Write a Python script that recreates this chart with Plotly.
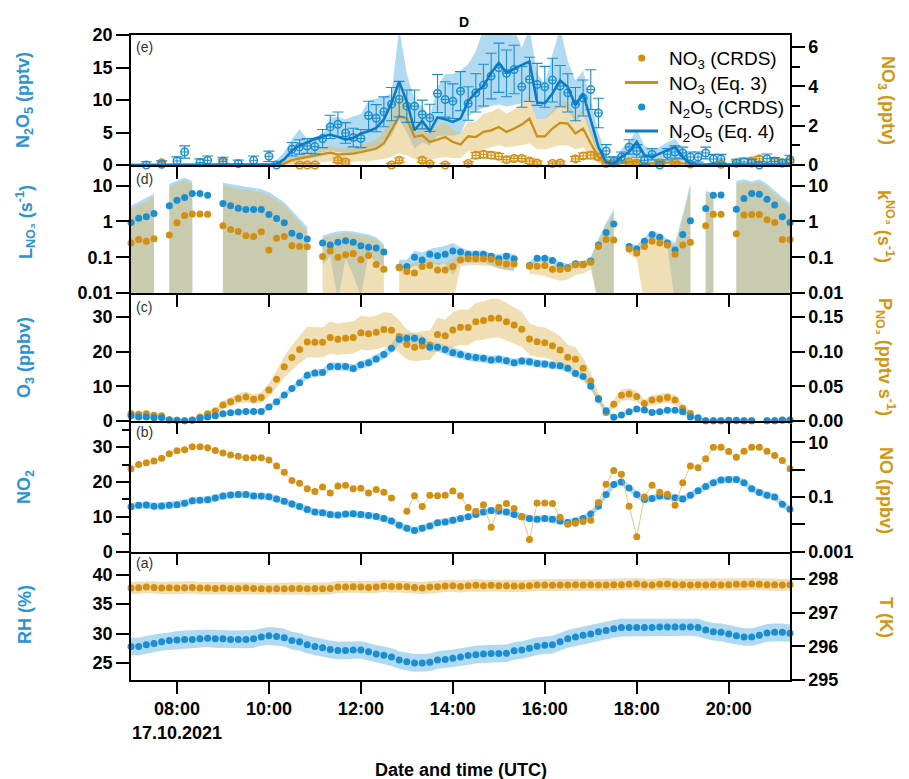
import numpy as np
import plotly.graph_objects as go

# ---------------------------------------------------------------------------
# 10-min averages, 17.10.2021, 07:00-21:20 UTC
# ---------------------------------------------------------------------------
N_POINTS = 87
HOURS = 7.0 + np.arange(N_POINTS) * 10.0 / 60.0
TICK_HOURS = [8, 10, 12, 14, 16, 18, 20]
TICK_LABELS = ["08:00<br>17.10.2021", "10:00", "12:00", "14:00", "16:00", "18:00", "20:00"]

# (a) relative humidity (%) and temperature (K)
RH = [27.8, 27.8, 28.1, 28.3, 28.6, 28.8, 28.9, 29.0, 29.0, 29.1,
      29.2, 29.1, 29.1, 29.0, 29.0, 29.0, 29.1, 29.4, 29.6, 29.5,
      29.3, 28.8, 28.6, 28.1, 27.8, 27.6, 27.3, 27.1, 27.1, 27.2,
      27.2, 26.9, 26.5, 26.3, 26.0, 25.5, 25.2, 25.0, 25.0, 25.1,
      25.5, 25.6, 25.8, 26.0, 26.25, 26.4, 26.5, 26.6, 26.6, 26.65,
      27.05, 27.2, 27.5, 27.85, 28.0, 28.1, 28.6, 29.1, 29.4, 29.7,
      29.9, 30.3, 30.5, 30.8, 31.0, 31.0, 31.0, 31.0, 31.0, 31.1,
      31.1, 31.1, 31.1, 31.1, 31.0, 30.6, 30.3, 30.2, 29.9, 29.6,
      29.4, 29.4, 29.7, 30.1, 30.2, 30.2, 30.05]
T_K = [297.73, 297.74, 297.76, 297.75, 297.73, 297.74, 297.73, 297.74, 297.75, 297.73,
       297.73, 297.72, 297.73, 297.72, 297.72, 297.73, 297.72, 297.71, 297.70, 297.71,
       297.71, 297.72, 297.72, 297.71, 297.72, 297.71, 297.72, 297.76, 297.76, 297.77,
       297.76, 297.75, 297.76, 297.79, 297.78, 297.78, 297.77, 297.75, 297.73, 297.76,
       297.77, 297.79, 297.80, 297.78, 297.80, 297.81, 297.80, 297.81, 297.80, 297.80,
       297.79, 297.79, 297.80, 297.82, 297.82, 297.81, 297.82, 297.82, 297.83, 297.82,
       297.83, 297.82, 297.82, 297.83, 297.83, 297.84, 297.85, 297.83, 297.82, 297.84,
       297.85, 297.83, 297.83, 297.82, 297.83, 297.82, 297.83, 297.82, 297.83, 297.84,
       297.84, 297.85, 297.84, 297.83, 297.83, 297.82, 297.83]

# (b) NO2 (ppbv) and NO (ppbv)
NO2 = [12.9, 13.3, 13.4, 13.05, 13.1, 13.3, 13.5, 13.9, 14.6, 14.8,
       14.9, 15.4, 16.0, 16.3, 16.4, 16.4, 16.0, 16.0, 15.8, 15.1,
       14.5, 13.7, 13.0, 12.1, 11.4, 11.2, 10.7, 10.5, 10.8, 10.9,
       10.7, 10.4, 10.1, 9.5, 8.8, 7.6, 6.7, 6.1, 6.7, 7.4,
       8.3, 8.5, 9.05, 9.5, 10.0, 10.7, 11.4, 11.8, 11.7, 11.4,
       10.7, 10.0, 9.5, 9.3, 9.5, 9.3, 8.8, 8.4, 8.8, 9.5,
       10.8, 13.05, 16.4, 19.3, 20.0, 18.3, 16.4, 15.0, 15.3, 16.0,
       15.9, 15.5, 15.1, 16.2, 17.5, 18.7, 19.8, 20.6, 20.7, 20.7,
       19.8, 18.1, 17.0, 16.2, 15.7, 13.6, 12.2]
NO = [1.07, 1.55, 1.78, 2.09, 2.63, 3.80, 4.90, 5.37, 6.92, 6.92,
      6.31, 5.01, 4.07, 3.47, 3.09, 2.75, 2.75, 2.75, 2.24, 1.35,
      0.81, 0.40, 0.32, 0.20, 0.16, 0.23, 0.14, 0.25, 0.27, 0.20,
      0.21, 0.14, 0.19, 0.15, 0.091, None, 0.030, 0.11, 0.045, 0.115,
      0.11, 0.115, 0.166, 0.11, 0.041, 0.030, 0.052, 0.0078, 0.042, 0.058,
      0.038, 0.019, 0.0028, 0.060, 0.060, 0.058, 0.018, 0.010, 0.011, 0.0126,
      0.014, 0.063, 0.29, 0.93, 0.68, 0.046, 0.0035, 0.10, 0.27, 0.15,
      0.126, 0.050, 0.33, 1.35, 1.17, 2.51, 6.61, 6.61, 4.57, 2.82,
      4.68, 6.61, 6.61, 4.68, 3.31, 2.14, 1.07]

# (c) O3 (ppbv) and NO3 production rate (pptv s-1)
O3 = [1.45, 1.07, 1.07, 0.87, 0.87, 0.2, 0.1, 0.0, 0.1, 0.68,
      1.07, 1.45, 2.0, 2.3, 2.5, 2.7, 2.7, 2.7, 4.0, 5.5,
      7.45, 9.3, 11.0, 13.2, 13.8, 14.0, 15.7, 15.7, 15.7, 15.1,
      16.2, 16.8, 17.9, 19.2, 21.0, 23.6, 23.9, 23.9, 23.2, 21.3,
      21.3, 20.6, 19.7, 19.2, 18.6, 18.3, 18.1, 17.6, 17.8, 17.4,
      16.8, 17.3, 17.1, 16.6, 16.4, 16.1, 15.9, 15.2, 13.7, 12.8,
      10.0, 6.2, 2.9, 1.0, 1.65, 2.6, 3.4, 3.1, 2.4, 2.6,
      3.0, 3.0, 2.6, 1.07, 0.87, 0.0, 0.0, 0.0, 0.1, 0.1,
      0.0, 0.0, None, 0.0, 0.0, 0.2, 0.2]
P_NO3 = [0.0105, 0.0095, 0.010, 0.0078, 0.0073, 0.0015, 0.0005, 0.0, 0.001, 0.0054,
         0.010, 0.014, 0.0228, 0.0275, 0.032, 0.0345, 0.031, 0.0335, 0.0445, 0.060,
         0.078, 0.0915, 0.103, 0.114, 0.1135, 0.1135, 0.1205, 0.118, 0.1195, 0.1205,
         0.1275, 0.126, 0.128, 0.132, 0.131, 0.122, 0.1105, 0.1065, 0.1085, 0.1095,
         0.125, 0.123, 0.1315, 0.1355, 0.135, 0.1435, 0.145, 0.1485, 0.1485, 0.1435,
         0.1385, 0.1325, 0.1185, 0.1145, 0.113, 0.1085, 0.1025, 0.092, 0.089, 0.076,
         0.0575, 0.0325, 0.012, 0.024, 0.037, 0.0385, 0.035, 0.025, 0.030, 0.0315,
         0.0335, 0.030, 0.018, 0.0105, 0.0025, 0.0, 0.0, 0.0, 0.0, 0.0,
         0.0, 0.0, None, 0.0, 0.0, 0.0005, 0.0005]

# (d) NO3 loss rate L_NO3 and reactivity k_NO3 (s-1), with uncertainty ranges
L_NO3 = [0.93, 1.23, 1.35, 1.66, None, 2.75, 3.89, 4.68, 6.03, 6.03,
         5.37, None, 3.16, 2.75, 2.34, 2.14, 2.14, 2.14, 1.55, 1.20,
         0.91, 0.47, 0.39, 0.32, None, 0.25, 0.22, 0.26, 0.29, 0.26,
         0.21, 0.19, 0.18, 0.14, None, 0.052, 0.055, 0.10, 0.083, 0.12,
         0.11, 0.12, 0.15, 0.14, 0.12, 0.12, 0.12, 0.107, 0.091, 0.107,
         0.091, None, 0.059, 0.093, 0.093, 0.081, 0.059, 0.051, 0.066, 0.063,
         0.078, 0.22, 0.49, 0.85, None, 0.20, 0.17, 0.28, 0.43, 0.36,
         0.25, 0.16, 0.43, 1.05, None, 2.29, 5.37, 5.5, None, 2.19,
         4.37, 6.03, 5.75, 4.17, 2.88, 1.35, 0.93]
K_NO3 = [0.25, 0.31, 0.28, 0.33, None, 0.42, 0.91, 1.45, 1.62, 1.62,
         1.58, None, 0.76, 0.59, 0.52, 0.40, 0.38, 0.51, 0.16, 0.34,
         0.38, 0.21, 0.20, 0.195, None, 0.105, 0.15, 0.10, 0.117, 0.126,
         0.085, 0.112, 0.063, 0.046, None, 0.051, 0.040, 0.036, 0.055, 0.059,
         0.044, 0.044, 0.055, 0.083, 0.091, 0.091, 0.091, 0.087, 0.071, 0.065,
         0.065, None, 0.056, 0.056, 0.059, 0.046, 0.045, 0.048, 0.062, 0.062,
         0.072, 0.20, 0.31, 0.30, None, 0.17, 0.13, 0.20, 0.28, 0.25,
         0.22, 0.12, 0.22, 0.26, None, 0.76, 1.58, 1.58, None, 0.45,
         1.51, 1.55, 1.55, 1.12, 0.93, 0.31, 0.31]
L_NO3_HI = [2.75, 3.55, 4.47, 5.9, None, 11, 13.5, 16.6, 13.5, None,
            None, None, 12, 11, 9.8, 9.3, 8.7, 7.9, 6.5, 4.7,
            3.4, 2.0, 1.17, 0.69, None, 0.40, 0.47, 0.52, 0.55, 0.52,
            0.47, 0.43, 0.36, 0.23, None, 0.085, 0.085, 0.155, 0.135, 0.17,
            0.19, 0.21, 0.25, 0.19, 0.155, 0.155, 0.155, 0.126, 0.12, 0.135,
            0.12, None, 0.075, 0.11, 0.11, 0.10, 0.075, 0.065, 0.08, 0.078,
            0.10, 0.33, 0.9, 2.2, None, 0.25, 0.22, 0.36, 0.55, 0.46,
            0.32, 0.25, 1.5, 11.5, None, 7.0, 6.3, None, None, 13.5,
            15, 13, 15, 11, 7, 4.7, 3.2]
L_NO3_LO = [0.005, 0.005, 0.005, 0.005, None, 0.005, 0.005, 0.005, 0.005, None,
            None, None, 0.005, 0.005, 0.005, 0.005, 0.005, 0.005, 0.005, 0.005,
            0.005, 0.005, 0.005, 0.005, None, 0.059, 0.11, 0.006, 0.091, 0.032,
            0.008, 0.126, 0.072, 0.052, None, 0.039, 0.044, 0.059, 0.052, 0.072,
            0.059, 0.066, 0.031, 0.079, 0.07, 0.07, 0.072, 0.059, 0.048, 0.044,
            0.041, None, 0.045, 0.075, 0.075, 0.065, 0.045, 0.04, 0.052, 0.05,
            0.062, 0.005, 0.005, 0.005, None, 0.16, 0.13, 0.22, 0.33, 0.28,
            0.2, 0.005, 0.005, 0.005, None, 0.005, 0.005, None, None, 0.005,
            0.005, 0.005, 0.005, 0.005, 0.005, 0.005, 0.005]
K_NO3_HI = [2.2, 2.9, 3.6, 4.8, None, 9, 11, 14, 11, None,
            None, None, 10, 9, 8, 7.6, 7.1, 6.5, 5.3, 3.8,
            2.8, 1.6, 0.95, 0.56, None, 0.34, 0.40, 0.44, 0.47, 0.44,
            0.40, 0.37, 0.30, 0.19, None, 0.075, 0.06, 0.07, 0.08, 0.085,
            0.07, 0.07, 0.09, 0.12, 0.13, 0.13, 0.13, 0.125, 0.10, 0.095,
            0.095, None, 0.075, 0.075, 0.078, 0.062, 0.06, 0.064, 0.08, 0.08,
            0.095, 0.28, 0.75, 1.8, None, 0.21, 0.17, 0.26, 0.36, 0.32,
            0.28, 0.2, 1.2, 9, None, 5.8, 5.2, None, None, 11,
            12.5, 11, 12.3, 9, 5.7, 3.8, 2.6]
K_NO3_LO = [0.005, 0.005, 0.005, 0.005, None, 0.005, 0.005, 0.005, 0.005, None,
            None, None, 0.005, 0.005, 0.005, 0.005, 0.005, 0.005, 0.005, 0.005,
            0.005, 0.005, 0.005, 0.005, None, 0.005, 0.005, 0.005, 0.005, 0.005,
            0.005, 0.005, 0.005, 0.005, None, 0.005, 0.005, 0.005, 0.005, 0.005,
            0.005, 0.005, 0.005, 0.055, 0.06, 0.06, 0.06, 0.058, 0.048, 0.043,
            0.043, None, 0.035, 0.032, 0.03, 0.025, 0.022, 0.024, 0.032, 0.035,
            0.045, 0.005, 0.005, 0.005, None, 0.12, 0.09, 0.005, 0.005, 0.005,
            0.005, 0.005, 0.005, 0.005, None, 0.005, 0.005, None, None, 0.005,
            0.005, 0.005, 0.005, 0.005, 0.005, 0.005, 0.005]

# (e) N2O5 and NO3 (pptv): CRDS measurements and steady-state calculations
N2O5_CRDS = [None, None, 0.0, None, 0.1, None, 0.62, 2.0, None, 0.36,
             0.72, None, 0.57, None, 0.21, None, 0.72, None, 1.34, 0.0,
             None, 2.42, 2.78, 2.93, 2.83, 4.07, 5.86, 6.27, 4.93, 4.22,
             4.07, 7.62, 7.2, 8.18, 9.36, 10.13, 9.05, 9.05, 7.77, 7.25,
             11.0, 10.08, 9.82, 11.36, 9.46, 11.1, 12.29, 13.68, 14.96, 14.1,
             14.7, 12.03, 13.17, 12.4, 12.03, 13.06, 12.14, 11.1, 9.36, 10.3,
             11.6, 8.0, 2.16, 0.62, 1.23, 2.78, 2.16, 0.72, 1.65, 0.0,
             1.65, 2.0, 1.85, 1.23, 1.23, 1.85, 0.93, 0.93, None, 0.31,
             0.46, 0.31, 0.0, 0.98, 0.52, 0.31, 0.82]
NO3_CRDS = [None, None, None, None, 0.12, None, None, None, None, None,
            None, None, 0.19, None, None, None, None, None, None, None,
            None, None, 0.0, 0.0, 0.0, None, None, 0.24, 0.15, None,
            None, None, None, None, 0.0, 0.24, None, None, 0.24, 0.05,
            None, 0.0, None, None, 0.07, 0.49, 0.54, 0.5, 0.44, 0.27,
            0.33, 0.33, 0.2, 0.1, None, 0.07, 0.1, None, 0.31, 0.46,
            0.5, 0.41, 0.07, 0.1, None, 0.15, 0.1, None, None, 0.12,
            None, 0.1, None, 0.05, None, None, None, 0.04, None, 0.1,
            None, 0.2, 0.31, None, 0.2, 0.1, 0.15]
N2O5_EQ4 = [0, 0, 0, 0, 0, 0, 0, 0, 0, 0,
            0, 0, 0, 0, 0, 0, 0, 0, 0.05, 0.1,
            0.9, 2.2, 3.0, 3.45, 4.07, 4.43, 4.69, 4.33, 3.91, 4.17,
            4.84, 5.2, 5.71, 7.0, 9.56, 12.8, 9.72, 5.35, 6.79, 5.2,
            7.31, 7.05, 6.63, 7.15, 9.82, 11.2, 12.14, 14.2, 15.7, 14.2,
            14.86, 15.4, 15.9, 9.6, 9.5, 11.0, 13.0, 12.0, 9.2, 11.0,
            6.9, 2.8, 0.46, 0.2, 1.23, 2.0, 3.55, 1.5, 1.23, 1.75,
            2.27, 2.78, 1.23, 0.2, 0.05, 0.05, 0.05, 0.05, 0.05, 0.05,
            0.05, 0.05, 0.05, 0.05, 0.05, 0.05, 0.05]
NO3_EQ3 = [0, 0, 0, 0, 0, 0, 0, 0, 0, 0,
           0, 0, 0, 0, 0, 0, 0, 0, 0, 0,
           0.07, 0.24, 0.33, 0.41, 0.49, 0.54, 0.63, 0.53, 0.54, 0.58,
           0.65, 0.75, 0.83, 1.09, 1.76, 2.48, 2.36, 1.42, 1.51, 1.17,
           1.29, 1.42, 1.17, 1.04, 1.46, 1.42, 1.68, 1.76, 1.93, 1.68,
           1.85, 2.05, 2.36, 1.45, 1.45, 1.85, 2.14, 2.1, 1.6, 1.85,
           1.09, 0.41, 0.1, 0.07, 0.1, 0.15, 0.18, 0.1, 0.08, 0.1,
           0.13, 0.15, 0.08, 0.03, 0.02, 0.02, 0.02, 0.02, 0.02, 0.02,
           0.02, 0.02, 0.02, 0.02, 0.02, 0.02, 0.02]
N2O5_EQ4_LO = [None] * 18 + [
    0.0, 0.0,
    0.1, 0.5, 1.0, 1.3, 1.8, 2.0, 2.2, 2.0, 1.8, 1.8,
    2.2, 2.5, 2.7, 3.3, 4.5, 7.0, 5.0, 2.5, 3.5, 3.0,
    4.5, 4.5, 4.5, 4.8, 7.5, 8.3, 8.8, 9.0, 9.3, 9.0,
    9.2, 9.5, 10.0, 7.0, 7.0, 8.0, 9.0, 8.5, 6.5, 8.0,
    4.5, 1.5, 0.0, 0.0, 0.3, 0.8, 1.5, 0.5, 0.5, 0.7,
    1.0, 1.2, 0.5, 0.0, 0.0, 0.0, 0.0, 0.0, 0.0, 0.0,
    0.0] + [None] * 6
N2O5_EQ4_HI = [None] * 18 + [
    0.3, 0.8,
    2.0, 4.0, 5.5, 4.0, 4.3, 4.5, 7.3, 7.4, 7.0, 7.5,
    7.8, 9.9, 10.2, 10.5, 11.0, 21.0, 14.0, 10.0, 9.0, 7.5,
    12.0, 14.0, 14.0, 14.5, 15.5, 17.5, 21.0, 21.0, 21.0, 21.0,
    21.0, 18.0, 21.0, 14.0, 12.5, 17.0, 21.0, 16.0, 13.0, 14.5,
    10.0, 5.0, 1.5, 0.5, 2.5, 3.5, 5.5, 3.0, 2.2, 2.8,
    3.5, 4.0, 2.5, 0.8, 0.5, 0.3, 0.3, 0.3, 0.3, 0.3,
    0.3] + [None] * 6
NO3_EQ3_LO = [None] * 19 + [
    0.0,
    0.0, 0.0, 0.05, 0.1, 0.15, 0.15, 0.2, 0.15, 0.15, 0.15,
    0.2, 0.2, 0.25, 0.3, 0.4, 0.6, 0.5, 0.3, 0.35, 0.25,
    0.35, 0.4, 0.35, 0.35, 0.7, 0.7, 0.8, 0.9, 1.0, 0.9,
    0.95, 1.0, 1.1, 0.8, 0.8, 0.9, 1.0, 1.0, 0.8, 0.9,
    0.4, 0.1, 0.0, 0.0, 0.0, 0.0, 0.0, 0.0, 0.0, 0.0,
    0.0, 0.0, 0.0] + [None] * 14
NO3_EQ3_HI = [None] * 19 + [
    0.1,
    0.25, 0.4, 0.55, 0.65, 0.75, 0.85, 1.0, 0.85, 0.85, 0.9,
    1.0, 1.15, 1.3, 1.7, 2.7, 3.6, 3.4, 2.1, 2.3, 1.8,
    2.0, 2.2, 1.8, 1.6, 2.2, 2.2, 2.6, 2.7, 2.9, 2.6,
    2.8, 3.1, 3.5, 2.3, 2.3, 2.8, 3.3, 3.2, 2.4, 2.8,
    1.8, 0.8, 0.2, 0.15, 0.2, 0.3, 0.35, 0.2, 0.18, 0.2,
    0.25, 0.3, 0.15] + [None] * 14

# measurement uncertainties
RH_UNC = 1.5
T_UNC = 0.18
NO2_UNC = 1.0
O3_UNC_ABS, O3_UNC_REL = 0.5, 0.04
P_UNC_ABS, P_UNC_REL = 0.0015, 0.18
N2O5_ERR_ABS, N2O5_ERR_REL = 0.5, 0.22
NO3_ERR_ABS, NO3_ERR_REL = 0.08, 0.15
AVG_HALF_WIDTH_H = 5.0 / 60.0

# ---------------------------------------------------------------------------
# styling
# ---------------------------------------------------------------------------
FONT = "Liberation Sans, Arial, sans-serif"
BLUE = "#1b8ed1"
BLUE_LINE = "#0b7cc3"
GOLD = "#d38f12"
GOLD_LINE = "#c98f18"
TITLE_BLUE = "#2a93d3"
TITLE_GOLD = "#d4950f"
BAND_BLUE = "#b0d9f2"
BAND_TAN = "rgba(225,189,105,0.5)"
NO_LINE = "rgba(226,176,96,0.75)"
DOT = 7

PLOT_L, PLOT_R, PLOT_T, PLOT_B = 131, 790, 35, 680
W, H = 909, 779


def px_x(px):
    return (px - PLOT_L) / (PLOT_R - PLOT_L)


def px_y(py):
    return (PLOT_B - py) / (PLOT_B - PLOT_T)


def spread(values, unc_abs, unc_rel=0.0):
    lo, hi = [], []
    for v in values:
        if v is None:
            lo.append(None)
            hi.append(None)
        else:
            u = unc_abs + unc_rel * abs(v)
            lo.append(v - u)
            hi.append(v + u)
    return lo, hi


def errors(values, unc_abs, unc_rel):
    return [0 if v is None else unc_abs + unc_rel * abs(v) for v in values]


def band_traces(lo, hi, color, xa, ya):
    """Filled uncertainty range, split wherever the range is undefined."""
    traces, run = [], []

    def flush():
        if len(run) >= 2:
            xs = [p[0] for p in run] + [p[0] for p in reversed(run)]
            ys = [p[2] for p in run] + [p[1] for p in reversed(run)]
            traces.append(go.Scatter(x=xs, y=ys, mode="lines", fill="toself",
                                     fillcolor=color, line=dict(width=0),
                                     hoverinfo="skip", showlegend=False,
                                     xaxis=xa, yaxis=ya))
        run.clear()

    for t, l, h in zip(HOURS, lo, hi):
        if l is None or h is None:
            flush()
        else:
            run.append((t, l, h))
    flush()
    return traces


def dots(y, color, xa, ya, size=DOT):
    return go.Scatter(x=HOURS, y=y, mode="markers", cliponaxis=False,
                      marker=dict(color=color, size=size, line=dict(width=0)),
                      hoverinfo="skip", showlegend=False, xaxis=xa, yaxis=ya)


fig = go.Figure()

# ---- (a) RH and T --------------------------------------------------------
for tr in band_traces(*spread(RH, RH_UNC), BAND_BLUE, "x", "y"):
    fig.add_trace(tr)
fig.add_trace(dots(RH, BLUE, "x", "y"))
for tr in band_traces(*spread(T_K, T_UNC), BAND_TAN, "x", "y6"):
    fig.add_trace(tr)
fig.add_trace(dots(T_K, GOLD, "x", "y6"))

# ---- (b) NO2 and NO ------------------------------------------------------
for tr in band_traces(*spread(NO2, NO2_UNC), BAND_BLUE, "x2", "y2"):
    fig.add_trace(tr)
fig.add_trace(dots(NO2, BLUE, "x2", "y2"))
fig.add_trace(go.Scatter(x=HOURS, y=NO, mode="lines", line=dict(color=NO_LINE, width=1),
                         hoverinfo="skip", showlegend=False, xaxis="x2", yaxis="y7"))
fig.add_trace(dots(NO, GOLD, "x2", "y7"))

# ---- (c) O3 and P_NO3 ----------------------------------------------------
for tr in band_traces(*spread(O3, O3_UNC_ABS, O3_UNC_REL), BAND_BLUE, "x3", "y3"):
    fig.add_trace(tr)
for tr in band_traces(*spread(P_NO3, P_UNC_ABS, P_UNC_REL), BAND_TAN, "x3", "y8"):
    fig.add_trace(tr)
fig.add_trace(dots(P_NO3, GOLD, "x3", "y8"))
fig.add_trace(dots(O3, BLUE, "x3", "y11"))

# ---- (d) L_NO3 and k_NO3 -------------------------------------------------
for tr in band_traces(L_NO3_LO, L_NO3_HI, BAND_BLUE, "x4", "y4"):
    fig.add_trace(tr)
for tr in band_traces(K_NO3_LO, K_NO3_HI, BAND_TAN, "x4", "y4"):
    fig.add_trace(tr)
fig.add_trace(dots(L_NO3, BLUE, "x4", "y4"))
fig.add_trace(dots(K_NO3, GOLD, "x4", "y4"))
fig.add_trace(go.Scatter(x=[None], y=[None], showlegend=False, xaxis="x4", yaxis="y9"))

# ---- (e) N2O5 and NO3 ----------------------------------------------------
for tr in band_traces(N2O5_EQ4_LO, N2O5_EQ4_HI, BAND_BLUE, "x5", "y5"):
    fig.add_trace(tr)
for tr in band_traces(NO3_EQ3_LO, NO3_EQ3_HI, BAND_TAN, "x5", "y10"):
    fig.add_trace(tr)
fig.add_trace(go.Scatter(x=HOURS, y=NO3_EQ3, mode="lines", line=dict(color=GOLD_LINE, width=2.3),
                         hoverinfo="skip", showlegend=False, xaxis="x5", yaxis="y10"))
fig.add_trace(go.Scatter(
    x=HOURS, y=NO3_CRDS, mode="markers", cliponaxis=False,
    marker=dict(symbol="circle-open", size=7.5, color=GOLD, line=dict(width=1.5, color=GOLD)),
    error_y=dict(type="data", array=errors(NO3_CRDS, NO3_ERR_ABS, NO3_ERR_REL),
                 color=GOLD, thickness=1.1, width=5.5),
    error_x=dict(type="constant", value=AVG_HALF_WIDTH_H, color=GOLD, thickness=1.1, width=0),
    hoverinfo="skip", showlegend=False, xaxis="x5", yaxis="y10"))
fig.add_trace(go.Scatter(
    x=HOURS, y=N2O5_CRDS, mode="markers", cliponaxis=False,
    marker=dict(symbol="circle-open", size=7.5, color=BLUE, line=dict(width=1.5, color=BLUE)),
    error_y=dict(type="data", array=errors(N2O5_CRDS, N2O5_ERR_ABS, N2O5_ERR_REL),
                 color=BLUE, thickness=1.1, width=5.5),
    error_x=dict(type="constant", value=AVG_HALF_WIDTH_H, color=BLUE, thickness=1.1, width=0),
    hoverinfo="skip", showlegend=False, xaxis="x5", yaxis="y12"))
fig.add_trace(go.Scatter(x=HOURS, y=N2O5_EQ4, mode="lines", line=dict(color=BLUE_LINE, width=2.6),
                         hoverinfo="skip", showlegend=False, xaxis="x5", yaxis="y12"))

# ---------------------------------------------------------------------------
# axes
# ---------------------------------------------------------------------------
TICKFONT = dict(family=FONT, size=18, color="black", weight="bold")
AXIS = dict(showline=True, linecolor="black", linewidth=1.5, ticks="outside",
            ticklen=13, tickwidth=1.5, tickcolor="black", showgrid=False,
            zeroline=False, tickfont=TICKFONT, fixedrange=True)

edges = [PLOT_T, 165, 293, 420.7, 551.7, PLOT_B]
dom = [[px_y(edges[k + 1]), px_y(edges[k])] for k in range(5)]  # e, d, c, b, a
DOM_E, DOM_D, DOM_C, DOM_B, DOM_A = dom

x_range = [HOURS[0], HOURS[-1]]
layout_axes = {}
for k, (xname, yname) in enumerate([("xaxis", "y"), ("xaxis2", "y2"), ("xaxis3", "y3"),
                                     ("xaxis4", "y4"), ("xaxis5", "y5")]):
    layout_axes[xname] = dict(AXIS, anchor=yname, domain=[0, 1], range=x_range,
                              tickvals=TICK_HOURS, ticktext=TICK_LABELS, ticklen=12,
                              showticklabels=(k == 0), mirror=(k == 4))

layout_axes.update(
    yaxis=dict(AXIS, domain=DOM_A, anchor="x", range=[22.1, 43.9], tickvals=[25, 30, 35, 40]),
    yaxis6=dict(AXIS, overlaying="y", side="right", anchor="x", range=[295, 298.81],
                tickvals=[295, 296, 297, 298]),
    yaxis2=dict(AXIS, domain=DOM_B, anchor="x2", range=[0, 37.6], tickvals=[0, 10, 20, 30],
                minor=dict(tickvals=[5, 15, 25, 35], ticks="outside", ticklen=7,
                           tickwidth=1.5, tickcolor="black")),
    yaxis7=dict(AXIS, overlaying="y2", side="right", anchor="x2", type="log", range=[-3, 1.79],
                tickvals=[0.001, 0.01, 0.1, 1, 10], ticktext=["0.001", "", "0.1", "", "10"]),
    yaxis3=dict(AXIS, domain=DOM_C, anchor="x3", range=[0, 37.0], tickvals=[0, 10, 20, 30]),
    yaxis8=dict(AXIS, overlaying="y3", side="right", anchor="x3", range=[0, 0.185],
                tickvals=[0, 0.05, 0.10, 0.15], ticktext=["0.00", "0.05", "0.10", "0.15"]),
    yaxis11=dict(overlaying="y3", anchor="x3", range=[0, 37.0], visible=False, fixedrange=True),
    yaxis4=dict(AXIS, domain=DOM_D, anchor="x4", type="log", range=[-2, 1.575],
                tickvals=[0.01, 0.1, 1, 10], ticktext=["0.01", "0.1", "1", "10"]),
    yaxis9=dict(AXIS, overlaying="y4", side="right", anchor="x4", type="log", range=[-2, 1.575],
                tickvals=[0.01, 0.1, 1, 10], ticktext=["0.01", "0.1", "1", "10"]),
    yaxis5=dict(AXIS, domain=DOM_E, anchor="x5", range=[0, 20], tickvals=[0, 5, 10, 15, 20]),
    yaxis10=dict(AXIS, overlaying="y5", side="right", anchor="x5", range=[0, 6.6],
                 tickvals=[0, 2, 4, 6],
                 minor=dict(tickvals=[1, 3, 5], ticks="outside", ticklen=8,
                            tickwidth=1.5, tickcolor="black")),
    yaxis12=dict(overlaying="y5", anchor="x5", range=[0, 20], visible=False, fixedrange=True),
)

# ---------------------------------------------------------------------------
# text
# ---------------------------------------------------------------------------
ann = []
shapes = []


def label(text, x, y, size=18, color="black", angle=0, xanchor="center"):
    ann.append(dict(text=text, x=px_x(x), y=px_y(y), xref="paper", yref="paper",
                    showarrow=False, textangle=angle, xanchor=xanchor, yanchor="middle",
                    font=dict(family=FONT, size=size, color=color)))


left_titles = [("<b>N<sub>2</sub>O<sub>5</sub> (pptv)</b>", 100),
               ("<b>L<sub>NO₃</sub> (s<sup>-1</sup>)</b>", 222),
               ("<b>O<sub>3</sub> (ppbv)</b>", 358),
               ("<b>NO<sub>2</sub></b>", 487),
               ("<b>RH (%)</b>", 615)]
right_titles = [("<b>NO<sub>3</sub> (pptv)</b>", 100),
                ("<b>k<sup>NO₃</sup> (s<sup>-1</sup>)</b>", 226),
                ("<b>P<sub>NO₃</sub> (pptv s<sup>-1</sup>)</b>", 357),
                ("<b>NO (ppbv)</b>", 490),
                ("<b>T (K)</b>", 617)]
for text, yc in left_titles:
    label(text, 25, yc, size=18, color=TITLE_BLUE, angle=-90)
for text, yc in right_titles:
    label(text, 886, yc, size=18, color=TITLE_GOLD, angle=90)

for text, yc in [("(e)", 47), ("(d)", 179), ("(c)", 307), ("(b)", 432), ("(a)", 563)]:
    label(text, 144, yc, size=14, color="#333333")

label("<b>D</b>", 464, 22, size=14)
label("<b>Date and time (UTC)</b>", 461, 770, size=18)

# key for panel (e)
KEY_ROWS = [("NO<sub>3</sub> (CRDS)", "dot", GOLD, 58),
            ("NO<sub>3</sub> (Eq. 3)", "line", GOLD_LINE, 82.5),
            ("N<sub>2</sub>O<sub>5</sub> (CRDS)", "dot", BLUE, 107),
            ("N<sub>2</sub>O<sub>5</sub> (Eq. 4)", "line", BLUE_LINE, 131)]
for text, kind, color, yc in KEY_ROWS:
    label(text, 667, yc + 2, size=19, xanchor="left")
    if kind == "dot":
        shapes.append(dict(type="circle", xref="paper", yref="paper",
                           x0=px_x(641.7 - 3.6), x1=px_x(641.7 + 3.6),
                           y0=px_y(yc + 3.6), y1=px_y(yc - 3.6),
                           fillcolor=color, line=dict(width=0)))
    else:
        shapes.append(dict(type="line", xref="paper", yref="paper",
                           x0=px_x(625), x1=px_x(658), y0=px_y(yc), y1=px_y(yc),
                           line=dict(color=color, width=3)))

fig.update_layout(
    width=W, height=H,
    margin=dict(l=PLOT_L, r=W - PLOT_R, t=PLOT_T, b=H - PLOT_B, autoexpand=False),
    template="none",
    paper_bgcolor="white", plot_bgcolor="white",
    showlegend=False,
    annotations=ann,
    shapes=shapes,
    **layout_axes,
)

fig.write_html("out.html")
